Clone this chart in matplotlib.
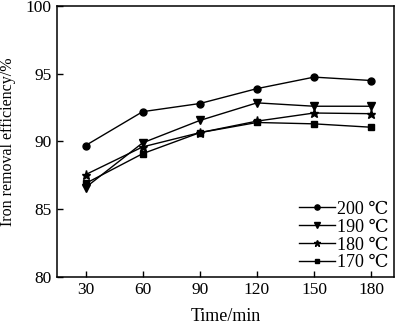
import numpy as np
import matplotlib.pyplot as plt

plt.rcParams['font.family'] = ['Liberation Serif', 'DejaVu Serif']
plt.rcParams['font.size'] = 12.5

time = [30, 60, 90, 120, 150, 180]
eff_200 = [89.7, 92.2, 92.8, 93.9, 94.75, 94.5]
eff_190 = [86.6, 89.9, 91.55, 92.85, 92.6, 92.6]
eff_180 = [87.55, 89.6, 90.65, 91.5, 92.1, 92.05]
eff_170 = [86.9, 89.1, 90.65, 91.4, 91.3, 91.05]

labels = ['200 ℃', '190 ℃', '180 ℃', '170 ℃']
markers = ['o', 'v', '*', 's']
sizes = [5, 6, 6.5, 4.5]

fig = plt.figure(figsize=(4, 3.25), dpi=100)
ax = fig.add_axes([0.1425, 0.148, 0.8425, 0.8335])

for ys, lab, m, s in zip([eff_200, eff_190, eff_180, eff_170], labels, markers, sizes):
    ax.plot(time, ys, color='black', lw=1.0, marker=m, markersize=s, label=lab)

ax.set_xlim(15, 192)
ax.set_ylim(80, 100)
ax.set_xticks(time)
ax.set_yticks([80, 85, 90, 95, 100])
ax.tick_params(direction='in', length=4, width=1, labelsize=12.5, pad=4)
for sp in ax.spines.values():
    sp.set_linewidth(1.1)
ax.set_xlabel('Time/min', fontsize=13, labelpad=7)
ax.set_ylabel('Iron removal efficiency/%', fontsize=11.5, labelpad=7)
ax.legend(loc='lower right', frameon=False, handlelength=2.0, handletextpad=0.1,
          labelspacing=0.05, fontsize=13, borderaxespad=0.1, borderpad=0.2,
          markerscale=0.75)

fig.savefig('out.png', dpi=100)
